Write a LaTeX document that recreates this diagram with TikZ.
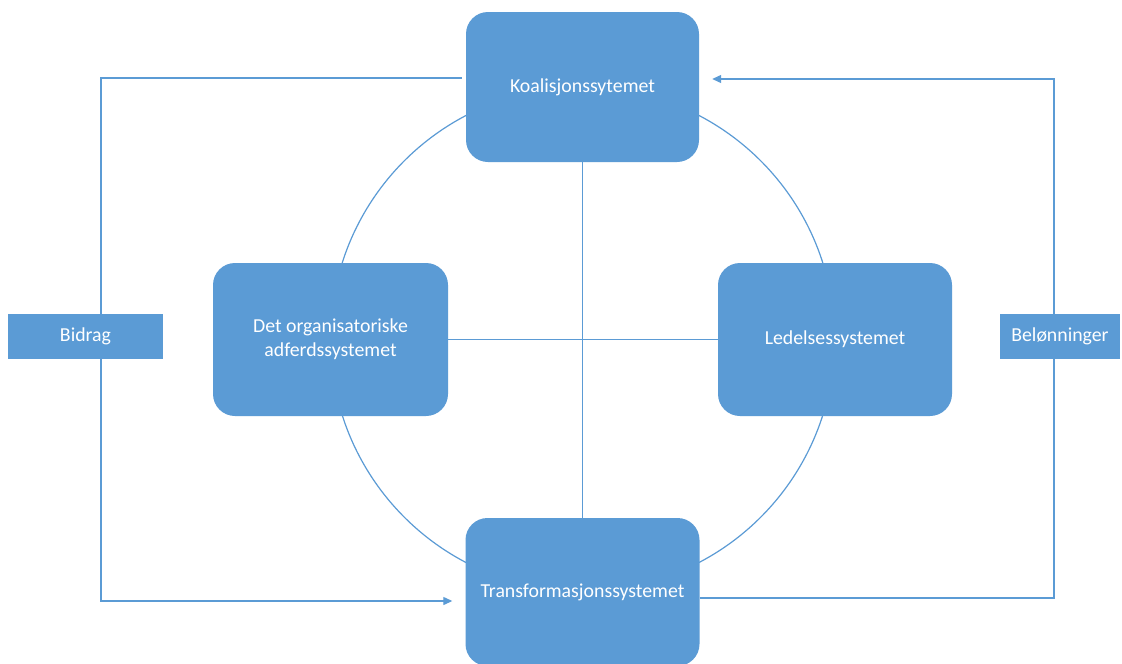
\documentclass[tikz,border=0pt]{standalone}
\usepackage{fontspec}
\setmainfont{Carlito}
\usetikzlibrary{arrows.meta}
\definecolor{accent}{HTML}{5B9BD5}
\begin{document}
\begin{tikzpicture}[x=1pt,y=-1pt,
  sysbox/.style={draw=none,fill=accent,rounded corners=22pt,text=white,
    align=center,inner sep=0pt,font=\fontsize{19.8}{24}\selectfont},
  tagbox/.style={draw=none,fill=accent,text=white,inner sep=0pt,
    font=\fontsize{19.8}{24}\selectfont},
  link/.style={draw=accent,line width=1.2pt},
  flow/.style={link,-{Triangle[length=9pt,width=8pt]}}]
\useasboundingbox (0,0) rectangle (1122,664);
\fill[white] (0,0) rectangle (1122,664);

% ring joining the four subsystems
\draw[link] (582.5,339) circle[radius=252pt];

% subsystems
\node[sysbox,minimum width=233pt,minimum height=150pt] (K) at (582.5,87) {Koalisjonssytemet};
\node[sysbox,minimum width=234pt,minimum height=148pt] (T) at (582.5,592) {Transformasjonssystemet};
\node[sysbox,minimum width=235pt,minimum height=153pt] (D) at (330.5,339.5) {Det organisatoriske\\adferdssystemet};
\node[sysbox,minimum width=234pt,minimum height=153pt] (L) at (835,339.5) {Ledelsessystemet};

% inputs and outputs
\node[tagbox,minimum width=155pt,minimum height=45pt] (B) at (85.5,336.5) {Bidrag};
\node[tagbox,minimum width=120pt,minimum height=45pt] (R) at (1060,336.5) {Belønninger};

% cross through the centre
\draw[link] (K.south) -- (T.north);
\draw[link] (D.east) -- (L.west);

% contribution loop on the left
\draw[link] ([shift={(-4,-9)}]K.west) -| ([xshift=15.5pt]B.north);
\draw[flow] ([xshift=15.5pt]B.south) |- ([shift={(-13,9)}]T.west);

% reward loop on the right
\draw[link] ([shift={(0,6)}]T.east) -| ([xshift=-6pt]R.south);
\draw[flow] ([xshift=-6pt]R.north) |- ([shift={(13,-8)}]K.east);
\end{tikzpicture}
\end{document}
